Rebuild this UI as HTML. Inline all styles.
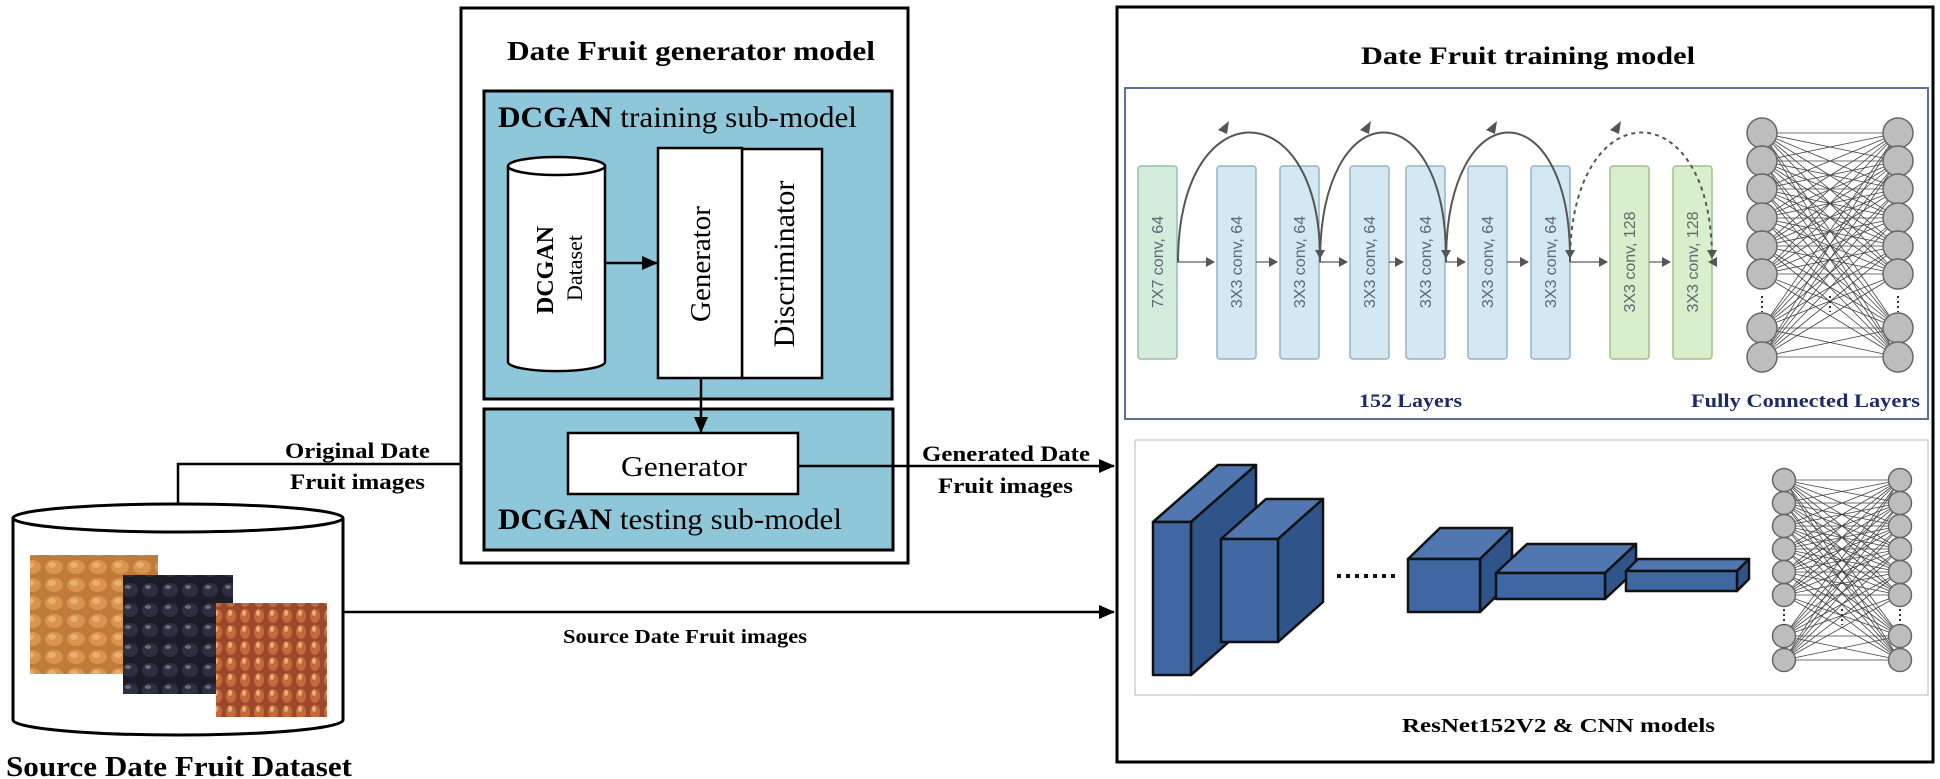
<!DOCTYPE html>
<html><head><meta charset="utf-8"><style>
html,body{margin:0;padding:0;background:#fff;}
svg{display:block;}
text{font-family:"Liberation Serif",serif;}
.b{font-weight:bold;}
.cv{font-family:"Liberation Sans",sans-serif;font-size:16px;fill:#5d6873;}
</style></head><body>
<svg id="s" width="1940" height="779" viewBox="0 0 1940 779" xmlns="http://www.w3.org/2000/svg">
<defs>
<marker id="ah" markerWidth="10" markerHeight="10" refX="9" refY="5" orient="auto" markerUnits="userSpaceOnUse"><path d="M0,0 L10,5 L0,10z" fill="#000"/></marker>
<marker id="ah2" markerWidth="16" markerHeight="14" refX="15" refY="7" orient="auto" markerUnits="userSpaceOnUse"><path d="M0,0 L16,7 L0,14z" fill="#000"/></marker>
<marker id="ga" markerWidth="10" markerHeight="10" refX="8" refY="5" orient="auto" markerUnits="userSpaceOnUse"><path d="M0,0 L9,5 L0,10z" fill="#555"/></marker>
<pattern id="p1" width="22" height="18" patternUnits="userSpaceOnUse"><rect width="22" height="18" fill="#c07a3a"/><ellipse cx="10" cy="9" rx="9" ry="7" fill="#d9954e"/><ellipse cx="8" cy="7" rx="4" ry="3" fill="#e8b070"/></pattern>
<pattern id="p2" width="20" height="20" patternUnits="userSpaceOnUse"><rect width="20" height="20" fill="#1d1d2a"/><ellipse cx="10" cy="10" rx="8" ry="7" fill="#2e2f40"/><ellipse cx="8" cy="7" rx="3" ry="2" fill="#6b6c7a"/></pattern>
<pattern id="p3" width="14" height="16" patternUnits="userSpaceOnUse"><rect width="14" height="16" fill="#9a4a2a"/><ellipse cx="7" cy="8" rx="5" ry="7" fill="#c56a3c"/><ellipse cx="6" cy="5" rx="2" ry="3" fill="#e3b070"/></pattern>
</defs>

<path d="M13,518 L13,720 A165,15 0 0 0 343,720 L343,518" fill="#fff" stroke="#000" stroke-width="3"/>
<ellipse cx="178" cy="518" rx="165" ry="14" fill="#fff" stroke="#000" stroke-width="3"/>
<rect x="30" y="555" width="128" height="119" fill="url(#p1)"/>
<rect x="123" y="575" width="110" height="119" fill="url(#p2)"/>
<rect x="216" y="603" width="111" height="114" fill="url(#p3)"/>
<text x="6" y="776" class="b" font-size="29" textLength="346" lengthAdjust="spacingAndGlyphs">Source Date Fruit Dataset</text>

<polyline points="178,504 178,464 566,464" fill="none" stroke="#000" stroke-width="2.5" marker-end="url(#ah2)"/>
<text x="285" y="458" class="b" font-size="22" textLength="145" lengthAdjust="spacingAndGlyphs">Original Date</text>
<text x="290" y="489" class="b" font-size="22" textLength="135" lengthAdjust="spacingAndGlyphs">Fruit images</text>
<line x1="343" y1="612" x2="1114" y2="612" stroke="#000" stroke-width="2.5" marker-end="url(#ah2)"/>
<text x="563" y="643" class="b" font-size="20" textLength="244" lengthAdjust="spacingAndGlyphs">Source Date Fruit images</text>

<rect x="461" y="8" width="447" height="555" fill="#fff" stroke="#000" stroke-width="3"/>
<text x="507" y="60" class="b" font-size="27" textLength="368" lengthAdjust="spacingAndGlyphs">Date Fruit generator model</text>
<rect x="484" y="91" width="408" height="308" fill="#8fc7da" stroke="#000" stroke-width="3"/>
<text x="498" y="127" font-size="30" textLength="359" lengthAdjust="spacingAndGlyphs"><tspan class="b">DCGAN</tspan> training sub-model</text>
<path d="M508,166 L508,362 A48,9 0 0 0 605,362 L605,166" fill="#fff" stroke="#000" stroke-width="2.5"/>
<ellipse cx="556.5" cy="166" rx="48.5" ry="9" fill="#fff" stroke="#000" stroke-width="2.5"/>
<text transform="translate(553,270) rotate(-90)" text-anchor="middle" class="b" font-size="24">DCGAN</text>
<text transform="translate(582,268) rotate(-90)" text-anchor="middle" font-size="22">Dataset</text>
<line x1="606" y1="263" x2="657" y2="263" stroke="#000" stroke-width="2.5" marker-end="url(#ah2)"/>
<rect x="742" y="149" width="80" height="229" fill="#fff" stroke="#000" stroke-width="2.5"/>
<rect x="658" y="148" width="84" height="230" fill="#fff" stroke="#000" stroke-width="2.5"/>
<text transform="translate(710,264) rotate(-90)" text-anchor="middle" font-size="29">Generator</text>
<text transform="translate(794,264) rotate(-90)" text-anchor="middle" font-size="30">Discriminator</text>
<rect x="484" y="409" width="409" height="141" fill="#8fc7da" stroke="#000" stroke-width="3"/>
<line x1="701" y1="378" x2="701" y2="432" stroke="#000" stroke-width="2.5" marker-end="url(#ah2)"/>
<rect x="568" y="433" width="230" height="61" fill="#fff" stroke="#000" stroke-width="2.5"/>
<text x="621" y="476" font-size="29" textLength="126" lengthAdjust="spacingAndGlyphs">Generator</text>
<text x="498" y="529" font-size="30" textLength="344" lengthAdjust="spacingAndGlyphs"><tspan class="b">DCGAN</tspan> testing sub-model</text>
<line x1="798" y1="466" x2="1114" y2="466" stroke="#000" stroke-width="2.5" marker-end="url(#ah2)"/>
<text x="922" y="461" class="b" font-size="22" textLength="168" lengthAdjust="spacingAndGlyphs">Generated Date</text>
<text x="938" y="493" class="b" font-size="22" textLength="135" lengthAdjust="spacingAndGlyphs">Fruit images</text>

<rect x="1117" y="7" width="816" height="755" fill="#fff" stroke="#000" stroke-width="3"/>
<text x="1361" y="64" class="b" font-size="25" textLength="334" lengthAdjust="spacingAndGlyphs">Date Fruit training model</text>
<rect x="1125" y="88" width="803" height="331" fill="#fff" stroke="#5a6e98" stroke-width="2"/>
<g id="conv"></g>
<text x="1359" y="407" class="b" font-size="19" fill="#1d2a68" textLength="103" lengthAdjust="spacingAndGlyphs">152 Layers</text>
<text x="1691" y="407" class="b" font-size="19" fill="#1d2a68" textLength="229" lengthAdjust="spacingAndGlyphs">Fully Connected Layers</text>

<rect x="1135" y="440" width="793" height="255" fill="#fff" stroke="#c8d2dc" stroke-width="1.5"/>
<g id="blocks" stroke="#111" stroke-width="2.5" stroke-linejoin="round"></g>
<line x1="1337" y1="576" x2="1399" y2="576" stroke="#111" stroke-width="4" stroke-dasharray="4,5"/>
<text x="1402" y="732" class="b" font-size="20" textLength="313" lengthAdjust="spacingAndGlyphs">ResNet152V2 &amp; CNN models</text>
<g id="fc"></g>
</svg>
<script>
var NS="http://www.w3.org/2000/svg";
function el(p,t,a){var e=document.createElementNS(NS,t);for(var k in a)e.setAttribute(k,a[k]);p.appendChild(e);return e;}
var conv=document.getElementById('conv');
var xs=[1138,1217,1280,1350,1406,1468,1531,1610,1673];
var labels=["7X7 conv, 64","3X3 conv, 64","3X3 conv, 64","3X3 conv, 64","3X3 conv, 64","3X3 conv, 64","3X3 conv, 64","3X3 conv, 128","3X3 conv, 128"];
for(var i=0;i<xs.length;i++){
 var f=i==0?"#d3ecdc":(i>=7?"#d9efcb":"#d3e8f2"), s=i==0?"#98bfa8":(i>=7?"#9cc48c":"#95b3c4");
 el(conv,'rect',{x:xs[i],y:166,width:39,height:193,rx:3,fill:f,stroke:s,'stroke-width':1.5});
 var t=el(conv,'text',{transform:'translate('+(xs[i]+25)+',262) rotate(-90)','text-anchor':'middle','class':'cv',fill:i>=7?'#3f6f30':'#5d6873'});
 t.textContent=labels[i];
 var nx=(i<xs.length-1)?xs[i+1]:1712;
 el(conv,'line',{x1:xs[i]+39,y1:262,x2:nx-3,y2:262,stroke:'#777','stroke-width':1.5,'marker-end':'url(#ga)'});
}
var arcs=[[1178,1320,0],[1320,1446,0],[1446,1570,0],[1570,1712,1]];
arcs.forEach(function(a){
 var d='M'+a[0]+',262 C'+a[0]+',90 '+a[1]+',90 '+a[1]+',258';
 var o={d:d,fill:'none',stroke:'#555','stroke-width':2,'marker-end':'url(#ga)'};
 if(a[2])o['stroke-dasharray']='4,4';
 el(conv,'path',o);
 el(conv,'path',{d:'M'+(a[0]+40)+',130 l11,-9 l-2,13z',fill:'#555'});
});
function fcnet(g,lx,rx,ys,dots,r){
 ys.forEach(function(y1){ys.forEach(function(y2){el(g,'line',{x1:lx,y1:y1,x2:rx,y2:y2,stroke:'#444','stroke-width':0.8});});});
 ys.forEach(function(y){el(g,'circle',{cx:lx,cy:y,r:r,fill:'#bdbdbd',stroke:'#666','stroke-width':1.5});el(g,'circle',{cx:rx,cy:y,r:r,fill:'#bdbdbd',stroke:'#666','stroke-width':1.5});});
 [lx,(lx+rx)/2,rx].forEach(function(x){el(g,'line',{x1:x,y1:dots-8,x2:x,y2:dots+8,stroke:'#333','stroke-width':2,'stroke-dasharray':'2,3'});});
}
var fc=document.getElementById('fc');
fcnet(fc,1762,1898,[133,161,189,218,246,274,328,357],304,15);
fcnet(fc,1784,1900,[480,503,526,549,572,595,636,660],617,11.5);
var b=document.getElementById('blocks');
function box(x1,y1,x2,y2,dx,dy){
 el(b,'path',{d:'M'+x1+','+y1+' L'+(x1+dx)+','+(y1-dy)+' L'+(x2+dx)+','+(y1-dy)+' L'+x2+','+y1+'z',fill:'#5077b0'});
 el(b,'path',{d:'M'+x2+','+y1+' L'+(x2+dx)+','+(y1-dy)+' L'+(x2+dx)+','+(y2-dy)+' L'+x2+','+y2+'z',fill:'#2f5489'});
 el(b,'rect',{x:x1,y:y1,width:x2-x1,height:y2-y1,fill:'#3f67a2'});
}
box(1153,522,1191,675,65,57);
box(1221,539,1278,642,45,40);
box(1408,559,1480,612,32,31);
box(1496,573,1605,599,31,29);
box(1626,571,1737,591,12,12);
</script>
</body></html>
